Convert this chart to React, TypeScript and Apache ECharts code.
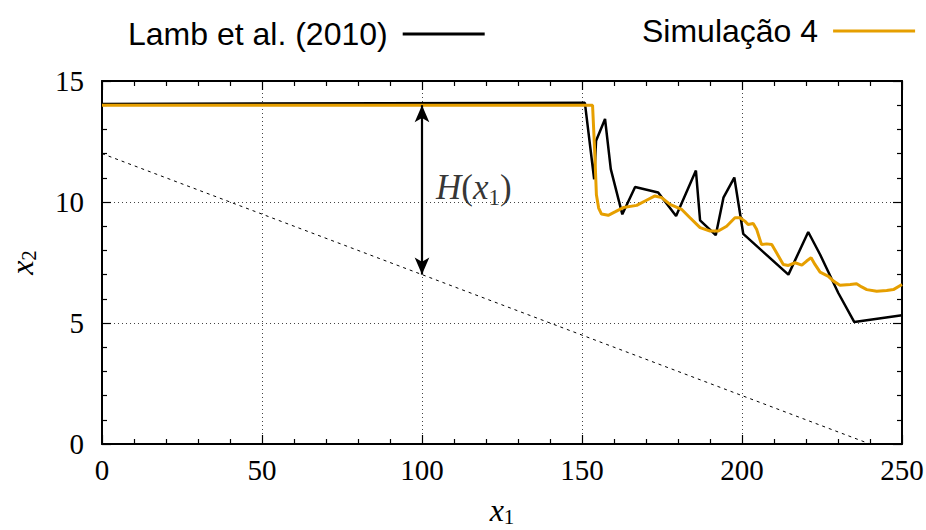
import React, { useEffect, useRef } from "react";
import * as echarts from "echarts";

// ---- data ----
const lambX = [0, 150.9, 153.8, 154.4, 157.2, 159, 162.6, 166.6, 173.8, 179.4, 185.6, 186.9, 191.8, 194.2, 197.6, 200.4, 214.5, 220.7, 224.4, 230.1, 235.1, 250];
const lambY = [14.05, 14.1, 10.94, 12.53, 13.43, 11.36, 9.49, 10.62, 10.39, 9.42, 11.3, 9.24, 8.63, 10.18, 11.01, 8.68, 7.0, 8.76, 7.83, 6.24, 5.04, 5.32];

const simX = [0, 153.3, 154.0, 154.5, 155.2, 156.1, 158.2, 160.3, 162.9, 167.1, 169.7, 172.8, 174.9, 177.5, 181.1, 183.75, 186.9, 190, 192.6, 195.2, 197.8, 199.4, 200.9, 201.9, 203.5, 204.6, 206.1, 207.7, 209.3, 210.8, 212.9, 214.5, 216.6, 218.7, 220.2, 221.6, 222.8, 224.4, 227, 228.6, 230.6, 233.8, 235.8, 237.4, 239, 242.1, 245.2, 247.3, 250];
const simY = [14.0, 14.0, 12.0, 10.3, 9.75, 9.5, 9.45, 9.59, 9.77, 9.86, 10.04, 10.25, 10.18, 9.9, 9.7, 9.35, 8.94, 8.8, 8.8, 9.0, 9.35, 9.35, 9.21, 9.07, 9.11, 8.86, 8.24, 8.27, 8.24, 7.9, 7.42, 7.38, 7.49, 7.39, 7.56, 7.7, 7.42, 7.1, 6.93, 6.73, 6.56, 6.59, 6.62, 6.49, 6.38, 6.31, 6.34, 6.38, 6.59];

const bedX = [0, 240];
const bedY = [12, 0];

const arrowX = 100;
const arrowTop = 14;
const arrowBottom = 7;
const labelPoint = [100, 10.5];

const xTicks = { min: 0, max: 250, interval: 50 };
const yTicks = { min: 0, max: 15, interval: 5 };

const lambName = "Lamb et al. (2010)";
const simName = "Simulação 4";

const zip = (xs: number[], ys: number[]) => xs.map((x, i) => [x, ys[i]]);

const serif = "Liberation Serif";
const sans = "Liberation Sans";

const makeRich = (size: number, sub: number, drop: number, lh: number) => ({
  i: { fontFamily: serif, fontStyle: "italic", fontSize: size, color: "#000", verticalAlign: "top", lineHeight: lh },
  n: { fontFamily: serif, fontSize: size, color: "#000", verticalAlign: "top", lineHeight: lh },
  s: { fontFamily: serif, fontSize: sub, color: "#000", verticalAlign: "top", lineHeight: lh, padding: [drop, 0, 0, 0] },
});

export default function App() {
  const ref = useRef<HTMLDivElement>(null);
  useEffect(() => {
    document.body.style.margin = "0";
    const chart = echarts.init(ref.current!, null, { renderer: "svg" });
    const tickCommon = {
      axisTick: { show: true, inside: true, length: 9, lineStyle: { color: "#000", width: 1.2 } },
      minorTick: { show: true, splitNumber: 5, length: 5, lineStyle: { color: "#000", width: 1.2 } },
      axisLine: { show: true, onZero: false, lineStyle: { color: "#000", width: 2 } },
    };
    const labelStyle = { fontFamily: serif, fontSize: 29, color: "#000" };
    const legendText = { fontFamily: sans, fontSize: 32, color: "#000", padding: [0, 10, 0, 0] };
    chart.setOption({
      animation: false,
      backgroundColor: "#fff",
      grid: { left: 102, right: 24, top: 81, bottom: 86, containLabel: false, outerBoundsMode: "none" },
      legend: [
        {
          data: [lambName],
          left: 123,
          top: 13,
          align: "right",
          icon: "rect",
          itemWidth: 82,
          itemHeight: 3,
          selectedMode: false,
          textStyle: legendText,
        },
        {
          data: [simName],
          left: 637,
          top: 10,
          align: "right",
          icon: "rect",
          itemWidth: 82,
          itemHeight: 3,
          selectedMode: false,
          textStyle: legendText,
        },
      ],
      xAxis: [
        {
          type: "value",
          ...xTicks,
          position: "bottom",
          ...tickCommon,
          axisLabel: { ...labelStyle, margin: 11 },
          splitLine: { show: true, lineStyle: { color: "#444", type: [1, 3], width: 1 } },
          name: "{i|x}{s|1}",
          nameLocation: "middle",
          nameGap: 50,
          nameTextStyle: { rich: makeRich(32, 21, 12, 32) },
        },
        {
          type: "value",
          ...xTicks,
          position: "top",
          ...tickCommon,
          axisLabel: { show: false },
          splitLine: { show: false },
        },
      ],
      yAxis: [
        {
          type: "value",
          ...yTicks,
          position: "left",
          ...tickCommon,
          axisLabel: { ...labelStyle, margin: 18 },
          splitLine: { show: true, lineStyle: { color: "#444", type: [1, 3], width: 1 } },
          name: "{i|x}{s|2}",
          nameLocation: "middle",
          nameGap: 64,
          nameTextStyle: { rich: makeRich(32, 21, 12, 32) },
        },
        {
          type: "value",
          ...yTicks,
          position: "right",
          ...tickCommon,
          axisLabel: { show: false },
          splitLine: { show: false },
        },
      ],
      series: [
        {
          name: "bed",
          type: "line",
          data: zip(bedX, bedY),
          symbol: "none",
          lineStyle: { color: "#000", width: 1, type: [3, 4] },
          silent: true,
        },
        {
          name: "annotation",
          type: "scatter",
          data: [labelPoint],
          symbolSize: 0.1,
          itemStyle: { color: "rgba(0,0,0,0)" },
          label: {
            show: true,
            position: "right",
            distance: 14,
            formatter: "{i|H}{n|(}{i|x}{s|1}{n|)}",
            rich: makeRich(35, 23, 16, 39),
          },
          silent: true,
          markLine: {
            silent: true,
            symbol: ["arrow", "arrow"],
            symbolSize: [11, 17],
            label: { show: false },
            lineStyle: { color: "#000", width: 2.2, type: "solid" },
            data: [[{ coord: [arrowX, arrowTop] }, { coord: [arrowX, arrowBottom] }]],
          },
        },
        {
          name: lambName,
          type: "line",
          data: zip(lambX, lambY),
          symbol: "none",
          color: "#000",
          lineStyle: { color: "#000", width: 2.5 },
        },
        {
          name: simName,
          type: "line",
          data: zip(simX, simY),
          symbol: "none",
          color: "#E69F00",
          lineStyle: { color: "#E69F00", width: 3 },
        },
      ],
    });
    return () => chart.dispose();
  }, []);
  return <div ref={ref} style={{ width: 926, height: 530 }} />;
}
